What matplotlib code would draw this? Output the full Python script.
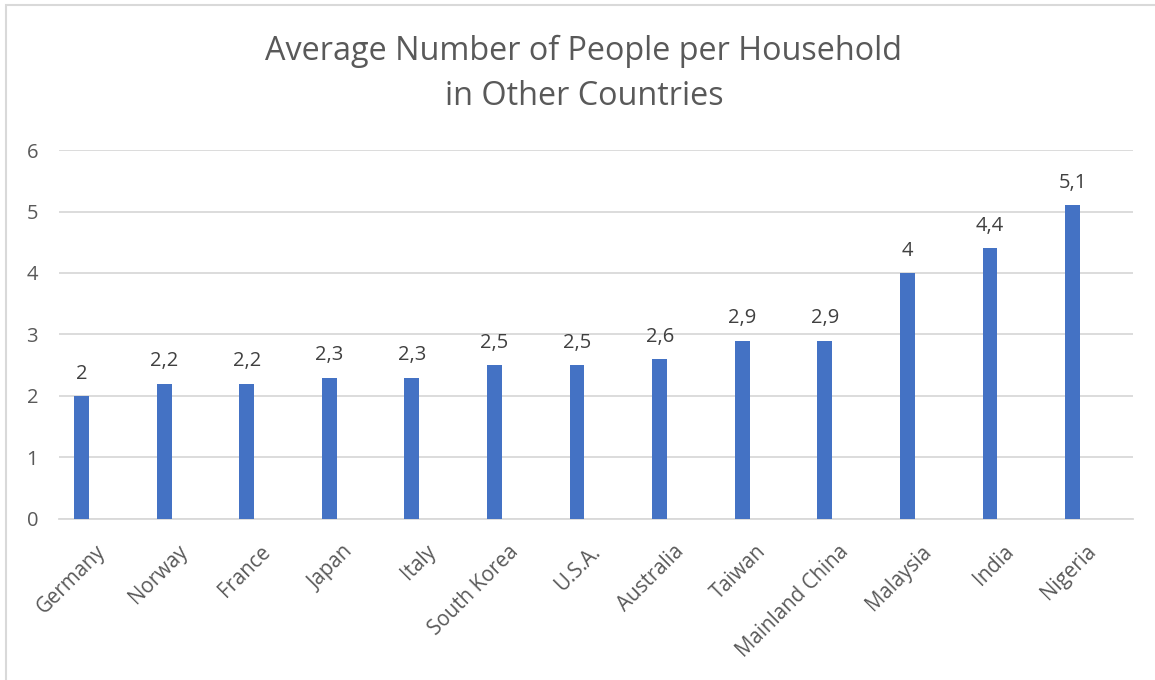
import matplotlib.pyplot as plt
from matplotlib.patches import Rectangle

plt.rcParams['font.family'] = ['Open Sans', 'DejaVu Sans']

# Data
countries = ["Germany", "Norway", "France", "Japan", "Italy", "South Korea", "U.S.A.",
             "Australia", "Taiwan", "Mainland China", "Malaysia", "India", "Nigeria"]
people = [2, 2.2, 2.2, 2.3, 2.3, 2.5, 2.5, 2.6, 2.9, 2.9, 4, 4.4, 5.1]
yticks = [0, 1, 2, 3, 4, 5, 6]

text_col = "#595959"
grid_col = "#D9D9D9"
bar_col = "#4472C4"

fig = plt.figure(figsize=(11.55, 6.8), dpi=100)
ax = fig.add_axes([0.0511, 0.2368, 0.9298, 0.5426])

x = list(range(len(countries)))
ax.bar(x, people, width=0.18, color=bar_col, zorder=3)

# data labels with comma decimals
for xi, v in zip(x, people):
    lbl = f"{v:g}".replace(".", ",")
    ax.text(xi, v + 0.2, lbl, ha="center", va="bottom", fontsize=14.5, color="#404040")

ax.set_ylim(0, 6)
ax.set_xlim(-0.272, 12.73)
ax.set_yticks(yticks)
ax.set_yticklabels([str(t) for t in yticks], fontsize=14.5, color=text_col)
ax.yaxis.grid(True, color=grid_col, linewidth=1.3, zorder=0)
ax.set_axisbelow(True)

ax.set_xticks([xi + 0.16 for xi in x])
ax.set_xticklabels(countries, rotation=45, ha="right", rotation_mode="anchor",
                   fontsize=14.8, color=text_col)
ax.tick_params(axis="both", length=0)
ax.tick_params(axis="x", pad=16)
ax.tick_params(axis="y", pad=15)

for s in ["top", "right", "left"]:
    ax.spines[s].set_visible(False)
ax.spines["bottom"].set_color(grid_col)
ax.spines["bottom"].set_linewidth(1.3)

fig.text(0.5056, 0.891, "Average Number of People per Household\nin Other Countries",
         ha="center", va="center", fontsize=23.3, color=text_col, linespacing=1.5)

# chart border
fig.patches.append(Rectangle((6 / 1155, -0.05), 1.2, 1 - 5 / 680 + 0.05,
                             transform=fig.transFigure, fill=False,
                             edgecolor=grid_col, linewidth=1.5))

fig.savefig("out.png", dpi=100)
